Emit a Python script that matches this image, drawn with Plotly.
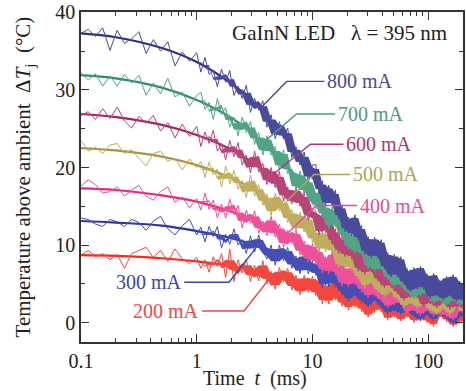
import numpy as np
import plotly.graph_objects as go

# sample times of the measured traces (ms)
t_data = np.concatenate([np.geomspace(0.1, 1, 17),
                         np.geomspace(1, 10, 29)[1:],
                         np.geomspace(10, 200, 47)[1:]])

currents = ["800 mA", "700 mA", "600 mA", "500 mA", "400 mA", "300 mA", "200 mA"]

# measured traces (°C)
d800 = [37.3, 37.8, 36.9, 38.0, 35.1, 37.7, 36.0, 36.6, 37.5, 34.7, 36.5, 35.0, 36.2, 33.1, 34.9, 33.7, 34.8,
        32.3, 34.2, 32.0, 32.5, 30.4, 32.7, 31.0, 32.5, 29.3, 30.5, 28.9, 30.6, 27.1, 28.9, 27.4, 28.6, 25.2, 26.8, 23.7, 25.9, 23.7, 25.1, 21.3, 22.7, 20.3, 22.0, 18.2, 20.3,
        20.4, 16.6, 18.3, 15.0, 17.7, 15.0, 17.1, 13.3, 15.2, 11.7, 13.6, 11.2, 13.9, 10.6, 12.5, 8.8, 11.1, 8.3, 11.0, 8.3, 10.7, 6.9, 9.0, 5.9, 8.8, 5.9, 8.5, 4.9, 6.8, 4.0, 7.1, 4.3, 7.3, 4.3, 6.3, 3.1, 6.4, 3.4, 5.4, 2.9, 6.0, 3.4, 6.2, 2.7, 5.3, 2.8]
d700 = [32.2, 31.3, 32.1, 30.5, 31.8, 30.5, 32.0, 30.9, 31.9, 29.3, 30.9, 29.5, 31.5, 29.1, 29.7, 27.9, 29.3,
        29.7, 27.5, 28.4, 26.2, 28.9, 26.8, 27.7, 25.2, 26.5, 24.1, 26.5, 24.5, 25.9, 23.0, 24.5, 21.6, 24.1, 21.6, 22.7, 19.7, 22.3, 19.2, 19.8, 17.1, 19.5, 16.6, 18.7, 15.3,
        14.7, 17.2, 13.5, 15.3, 12.1, 14.9, 12.3, 14.5, 10.8, 12.8, 9.4, 11.4, 9.0, 11.8, 8.6, 10.5, 6.9, 9.4, 6.6, 9.4, 6.8, 9.2, 5.5, 7.6, 4.6, 7.6, 4.7, 7.4, 3.8, 5.8, 3.1, 6.2, 3.5, 6.5, 3.5, 5.5, 2.4, 5.8, 2.8, 4.8, 2.2, 5.3, 2.8, 5.7, 2.1, 4.8]
d600 = [26.7, 27.2, 26.2, 27.6, 26.3, 27.8, 26.0, 25.1, 26.6, 25.7, 26.7, 24.7, 25.8, 23.8, 25.6, 24.0, 25.3,
        22.7, 24.6, 23.1, 24.8, 22.1, 23.1, 21.0, 23.5, 21.4, 23.2, 20.3, 21.6, 19.3, 22.1, 19.4, 20.5, 17.8, 20.0, 17.4, 19.5, 15.7, 17.5, 15.3, 17.4, 15.0, 16.8, 13.2, 14.7,
        14.4, 11.3, 14.1, 11.6, 13.8, 10.1, 12.1, 8.9, 10.9, 8.5, 11.3, 8.2, 10.2, 6.6, 9.1, 6.2, 9.0, 6.5, 9.0, 5.3, 7.4, 4.5, 7.5, 4.5, 7.2, 3.7, 5.7, 2.9, 6.0, 3.2, 6.2, 3.2, 5.3, 2.1, 5.4, 2.4, 4.5, 1.9, 5.0, 2.5, 5.3, 1.7, 4.4, 1.9, 4.9, 1.7]
d500 = [23.5, 22.1, 22.6, 21.8, 22.9, 23.1, 21.8, 22.3, 21.2, 20.2, 21.8, 22.1, 20.8, 21.2, 19.7, 21.1, 20.0,
        20.8, 18.7, 20.7, 19.1, 19.8, 17.5, 20.2, 17.9, 19.6, 17.2, 18.3, 16.1, 19.0, 16.3, 17.8, 15.1, 16.6, 13.8, 16.7, 14.4, 16.0, 12.9, 14.6, 11.7, 14.2, 11.7, 13.8, 10.3,
        12.0, 9.1, 11.9, 9.1, 11.7, 8.9, 10.6, 7.1, 9.6, 6.9, 9.8, 6.7, 9.0, 5.6, 7.6, 4.5, 7.6, 5.0, 7.5, 3.9, 6.4, 3.3, 6.4, 3.9, 6.3, 2.9, 5.3, 2.0, 4.7, 2.4, 5.3, 1.8, 4.6, 2.4, 4.8, 1.5, 4.0, 1.0, 4.5, 1.7, 4.2, 1.0, 4.2, 1.9, 4.5, 1.2]
d400 = [17.6, 18.4, 17.8, 16.7, 16.9, 17.5, 16.3, 17.1, 17.7, 16.3, 15.8, 16.9, 17.5, 15.5, 16.2, 14.8, 16.0,
        14.5, 16.7, 14.6, 15.8, 13.5, 15.3, 13.5, 15.9, 13.9, 15.1, 12.2, 14.5, 12.8, 14.4, 11.5, 13.1, 11.2, 13.7, 11.0, 12.7, 9.7, 11.9, 10.2, 12.0, 8.7, 10.5, 7.8, 10.2,
        7.5, 9.6, 6.4, 8.5, 6.3, 9.2, 6.1, 8.2, 4.7, 7.3, 4.6, 7.4, 4.9, 7.5, 3.9, 6.1, 3.2, 6.3, 3.4, 6.1, 2.7, 4.7, 1.9, 5.1, 2.3, 5.3, 2.3, 4.3, 1.2, 4.5, 1.5, 3.5, 0.9, 4.1, 1.5, 4.3, 0.8, 3.4, 0.9, 4.0, 0.7, 3.0, 0.3, 3.5, 1.4, 4.0]
d300 = [13.5, 13.3, 12.7, 12.4, 13.3, 13.0, 12.4, 13.3, 12.9, 11.9, 13.1, 13.7, 12.1, 11.3, 12.5, 13.3, 11.3,
        12.3, 10.4, 12.4, 11.1, 12.4, 9.6, 11.4, 10.1, 12.1, 10.0, 10.7, 8.9, 11.2, 9.1, 11.3, 9.2, 8.2, 10.0, 7.4, 10.0, 8.0, 9.7, 7.0, 8.6, 6.3, 9.0, 6.3, 7.9,
        6.1, 7.9, 4.5, 7.1, 4.6, 7.6, 4.6, 6.9, 3.6, 5.7, 2.7, 6.0, 3.4, 6.0, 2.5, 5.0, 2.0, 5.1, 2.8, 5.3, 1.9, 4.3, 1.1, 3.8, 1.5, 4.4, 1.0, 3.8, 1.6, 4.0, 0.7, 3.2, 0.2, 3.7, 0.9, 3.4, 0.2, 3.4, 1.0, 3.7, 0.4, 2.5, -0.2, 3.0, 0.6, 3.5]
d200 = [8.7, 9.3, 8.5, 8.9, 8.1, 8.8, 7.0, 8.9, 9.3, 9.7, 8.4, 9.3, 7.9, 9.5, 8.2, 7.6, 8.4,
        7.0, 8.1, 6.5, 8.5, 7.2, 8.9, 5.8, 9.5, 5.3, 8.1, 6.4, 8.2, 5.3, 7.4, 5.4, 8.0, 5.0, 6.6, 4.3, 7.1, 5.3, 7.0, 4.2, 6.1, 3.6, 6.1, 3.9, 6.0,
        3.5, 5.7, 2.4, 5.0, 2.4, 5.4, 2.9, 5.6, 2.1, 4.4, 1.6, 4.8, 2.0, 4.8, 1.4, 3.5, 0.7, 4.0, 1.3, 4.3, 1.4, 3.4, 0.3, 3.7, 0.7, 2.7, 0.2, 3.3, 0.7, 3.6, 0.0, 2.7, 0.2, 3.2, 0.0, 2.3, -0.5, 2.8, 0.7, 3.3, 0.1, 2.4, -0.5, 1.9, -0.1, 3.1]

# fitted curves (°C) at these times (ms)
t_fit = [0.1, 0.2, 0.5, 1, 2, 3, 5, 7, 10, 15, 20, 30, 50, 70, 100, 150, 200]
f800 = [37.3, 36.8, 35.4, 33.6, 30.8, 28.6, 25.0, 22.3, 19.3, 15.6, 13.2, 10.3, 7.3, 5.9, 5.0, 4.4, 4.2]
f700 = [31.9, 31.5, 30.3, 28.7, 26.4, 24.5, 21.4, 19.1, 16.6, 13.4, 11.4, 8.9, 6.4, 5.1, 4.4, 3.9, 3.7]
f600 = [26.9, 26.5, 25.5, 24.2, 22.3, 20.7, 18.1, 16.2, 14.0, 11.4, 9.6, 7.6, 5.4, 4.4, 3.8, 3.3, 3.2]
f500 = [22.5, 22.2, 21.4, 20.3, 18.6, 17.3, 15.1, 13.5, 11.7, 9.4, 8.0, 6.3, 4.5, 3.6, 3.1, 2.7, 2.6]
f400 = [17.3, 17.1, 16.4, 15.6, 14.3, 13.3, 11.6, 10.4, 9.0, 7.3, 6.2, 4.9, 3.5, 2.9, 2.5, 2.2, 2.1]
f300 = [13.1, 12.9, 12.5, 11.8, 10.9, 10.1, 8.9, 7.9, 6.9, 5.6, 4.8, 3.8, 2.8, 2.3, 2.0, 1.8, 1.7]
f200 = [8.7, 8.6, 8.3, 7.9, 7.3, 6.8, 6.0, 5.3, 4.7, 3.8, 3.3, 2.7, 2.0, 1.7, 1.5, 1.3, 1.3]

# label leader lines (time ms, °C)
lead_t = [[3.44, 5.98, 12.7], [3.96, 7.29, 15.7], [4.63, 9.62, 18.5], [5.86, 10.3, 21.2],
          [5.98, 10.8, 24.3], [3.24, 1.90, 0.78], [4.63, 2.56, 1.11]]
lead_y = [[27.4, 31.1, 31.1], [23.5, 26.9, 26.9], [19.2, 23.0, 23.0], [15.5, 19.1, 19.1],
          [11.4, 15.1, 15.1], [9.6, 5.2, 5.2], [6.4, 1.5, 1.5]]

data_sets = [d800, d700, d600, d500, d400, d300, d200]
fit_sets = [f800, f700, f600, f500, f400, f300, f200]

fit_col = ["#2e2e80", "#2f8c6c", "#a2245f", "#a89440", "#e2287f", "#2c36a2", "#ee2a22"]
dat_col = ["#4a4a9c", "#52a486", "#b8447a", "#c0ad5e", "#ef509a", "#444eb4", "#f4483e"]
lab_col = ["#4a4a96", "#4f9a7e", "#b03570", "#b2a258", "#e0509a", "#3c46a8", "#f04848"]

FONT = "Liberation Serif"
fig = go.Figure()

for f, c in zip(fit_sets, fit_col):
    fig.add_trace(go.Scatter(x=t_fit, y=f, mode="lines", line=dict(color=c, width=2.2, shape="spline"),
                             hoverinfo="skip", showlegend=False))

# dense noisy part: core band from the local envelope of the trace, growing with time, plus the trace
band_start = int(np.searchsorted(t_data, 1.0))
tb = t_data[band_start:]
lt = np.log10(tb)
grow = np.where(lt < 0.6, lt / 0.6 * 0.6, 0.6 + np.clip((lt - 0.6) / 1.1, 0, 1) * 0.22)
for i in range(6, -1, -1):
    y = np.array(data_sets[i])
    up = np.array([y[max(k - 1, 0):k + 2].max() for k in range(len(y))])[band_start:]
    lo = np.array([y[max(k - 1, 0):k + 2].min() for k in range(len(y))])[band_start:]
    mid = (up + lo) / 2
    half = (up - lo) / 2 * grow
    fig.add_trace(go.Scatter(x=np.concatenate([tb, tb[::-1]]),
                             y=np.concatenate([mid + half, (mid - half)[::-1]]),
                             mode="lines", fill="toself", fillcolor=dat_col[i],
                             line=dict(width=0), hoverinfo="skip", showlegend=False))
    fig.add_trace(go.Scatter(x=t_data, y=y, mode="lines",
                             line=dict(color=dat_col[i], width=1.0),
                             hoverinfo="skip", showlegend=False))

for i in range(7):
    fig.add_trace(go.Scatter(x=lead_t[i], y=lead_y[i], mode="lines",
                             line=dict(color=lab_col[i], width=1.4),
                             hoverinfo="skip", showlegend=False))
    left = i < 5
    fig.add_annotation(x=np.log10(lead_t[i][2]) + (0.005 if left else -0.005), y=lead_y[i][2],
                       text=currents[i], showarrow=False,
                       xanchor="left" if left else "right", yanchor="middle",
                       font=dict(family=FONT, size=20, color=lab_col[i]))

fig.add_annotation(x=0.39, y=0.937, xref="paper", yref="paper", xanchor="left", yanchor="middle",
                   text="GaInN LED   λ = 395 nm", showarrow=False,
                   font=dict(family=FONT, size=21, color="#222222"))
fig.add_annotation(x=0.455, y=-0.11, xref="paper", yref="paper", xanchor="center", yanchor="middle",
                   text="Time  <i>t</i>  (ms)", showarrow=False,
                   font=dict(family=FONT, size=20, color="#222222"))
fig.add_annotation(x=-0.148, y=0.5, xref="paper", yref="paper", xanchor="center", yanchor="middle",
                   textangle=-90, text="Temperature above ambient  Δ<i>T</i><sub>j</sub>  (°C)", showarrow=False,
                   font=dict(family=FONT, size=21, color="#222222"))

axis_common = dict(showline=True, linecolor="#333333", linewidth=1.5, mirror="ticks",
                   ticks="inside", ticklen=8, tickwidth=1.3, tickcolor="#333333",
                   showgrid=False, zeroline=False, ticklabeloverflow="allow",
                   tickfont=dict(family=FONT, size=20, color="#222222"))

fig.update_xaxes(type="log", range=[-1, np.log10(200)],
                 tickvals=[0.1, 1, 10, 100], ticktext=["0.1", "1", "10", "100"],
                 minor=dict(ticks="inside", ticklen=4, tickwidth=1.1, tickcolor="#333333",
                            tickvals=[0.2, 0.3, 0.4, 0.5, 0.6, 0.7, 0.8, 0.9,
                                      2, 3, 4, 5, 6, 7, 8, 9,
                                      20, 30, 40, 50, 60, 70, 80, 90, 200]),
                 **axis_common)
fig.update_yaxes(range=[-2.5, 40.05], tickvals=[0, 10, 20, 30, 40],
                 minor=dict(ticks="inside", ticklen=4, tickwidth=1.1, tickcolor="#333333",
                            tickvals=[5, 15, 25, 35]),
                 **axis_common)

fig.update_layout(width=466, height=391, margin=dict(l=81, r=1, t=10, b=49),
                  paper_bgcolor="white", plot_bgcolor="white")
fig.write_html("out.html")
